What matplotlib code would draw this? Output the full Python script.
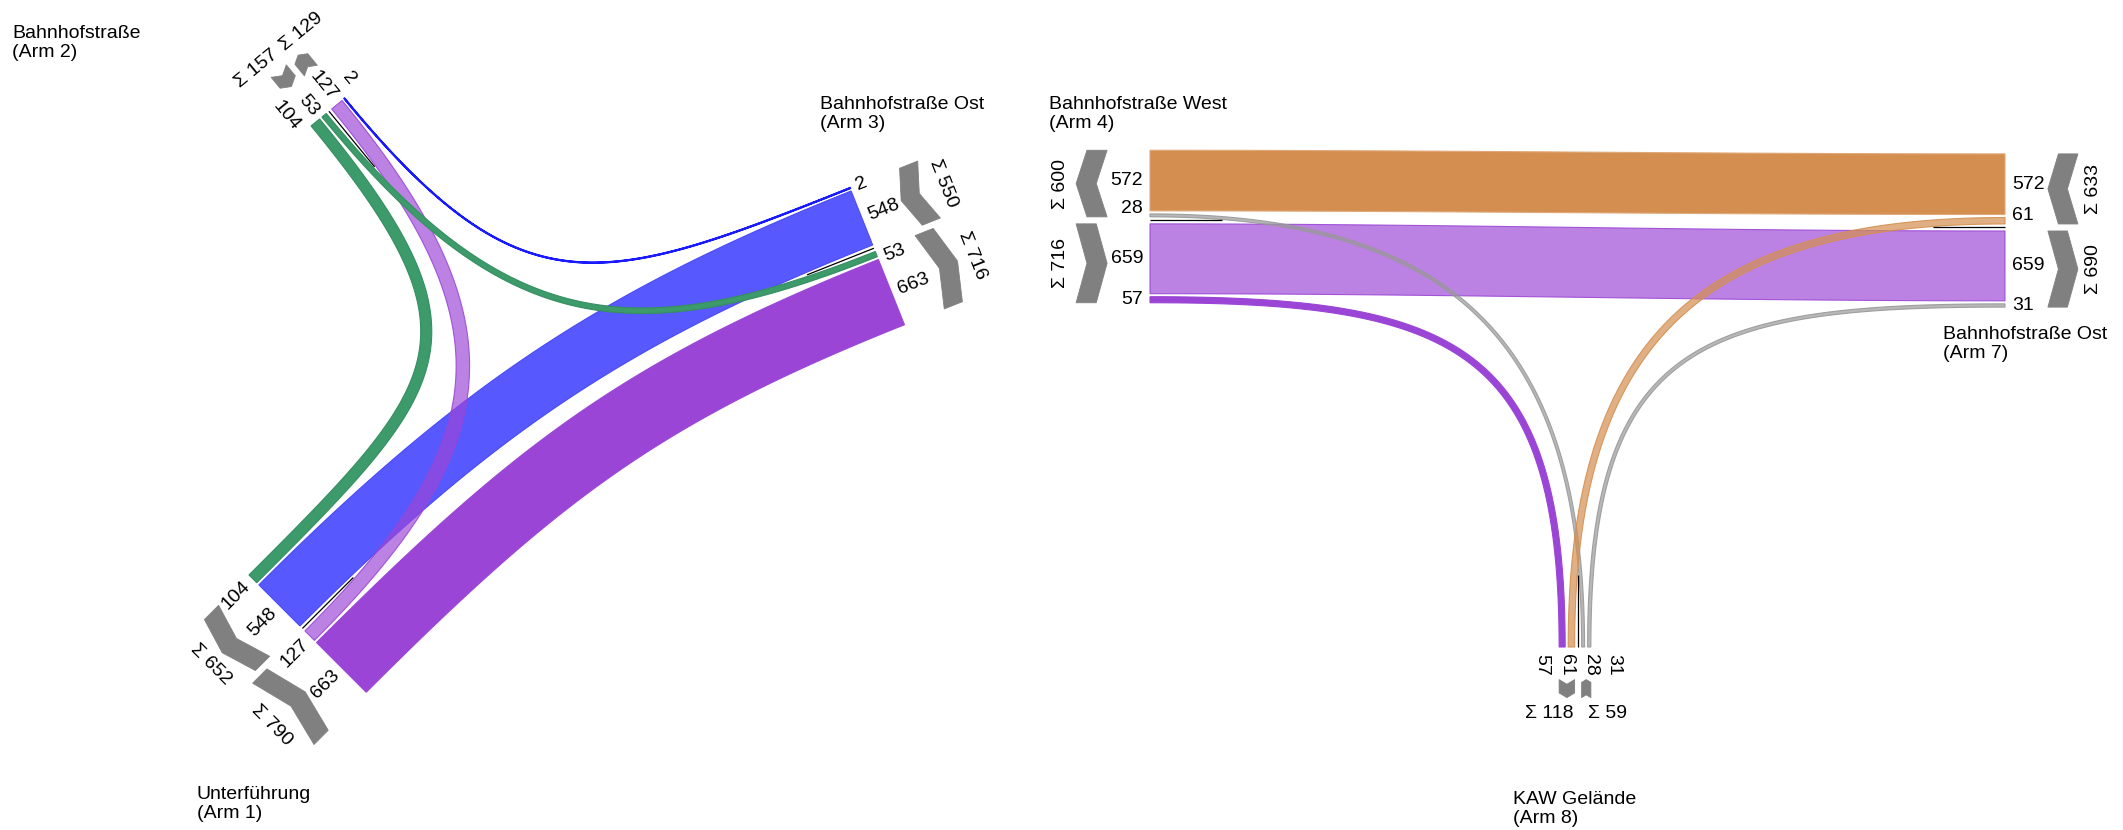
import os
import numpy as np
import matplotlib
matplotlib.use("Agg")
import matplotlib.pyplot as plt
import matplotlib.font_manager as fm
from matplotlib.patches import Polygon

# ---------------- font (Arial-metric Liberation Sans, regular width) ----------------
_font_path = None
for _f in fm.findSystemFonts():
    if os.path.basename(_f).lower() in ('liberationsans-regular.ttf', 'arimo-regular.ttf', 'arial.ttf'):
        _font_path = _f
        break
if _font_path:
    fm.fontManager.addfont(_font_path)
    _fname = fm.FontProperties(fname=_font_path).get_name()
    plt.rcParams['font.family'] = [_fname, 'DejaVu Sans']
    FONT_KW = dict(fontproperties=fm.FontProperties(fname=_font_path))
else:
    plt.rcParams['font.family'] = ['Roboto', 'DejaVu Sans']
    FONT_KW = {}

# ---------------- data ----------------
# left intersection (arms 1, 2, 3): flows origin -> destination with counts
left_from = [1, 3, 1, 2, 2, 3]
left_to = [3, 1, 2, 1, 3, 2]
left_vals = [663, 548, 127, 104, 53, 2]

# right intersection (arms 4, 7, 8)
right_from = [7, 4, 4, 8, 8, 7]
right_to = [4, 7, 8, 7, 4, 8]
right_vals = [572, 659, 57, 31, 28, 61]

arm_names = {
    1: "Unterführung\n(Arm 1)",
    2: "Bahnhofstraße\n(Arm 2)",
    3: "Bahnhofstraße Ost\n(Arm 3)",
    4: "Bahnhofstraße West\n(Arm 4)",
    7: "Bahnhofstraße Ost\n(Arm 7)",
    8: "KAW Gelände\n(Arm 8)",
}

# ---------------- styles / layout ----------------
SCALE = 0.106      # px per vehicle
GAP = 3.0
MID_GAP = 7.0
FS = 14.0

flow_style = {
    (1, 3): dict(fc='#9b45d6', ec='#9b45d6', alpha=1.0),
    (3, 1): dict(fc='#5858ff', ec='#4a4af8', alpha=1.0),
    (1, 2): dict(fc='#9b45d6', ec='#9b45d6', alpha=0.68),
    (2, 1): dict(fc='#3d9a6a', ec='#358f60', alpha=1.0),
    (2, 3): dict(fc='#3d9a6a', ec='#358f60', alpha=1.0),
    (3, 2): dict(fc='#2a2aff', ec='#1a1aff', alpha=1.0),
    (7, 4): dict(fc='#d48f50', ec='#e0a878', alpha=1.0),
    (4, 7): dict(fc='#9b45d6', ec='#9b45d6', alpha=0.68),
    (4, 8): dict(fc='#9b45d6', ec='#9b45d6', alpha=1.0),
    (8, 7): dict(fc='#999999', ec='#999999', alpha=0.7),
    (8, 4): dict(fc='#999999', ec='#999999', alpha=0.7),
    (7, 8): dict(fc='#d48f50', ec='#d48f50', alpha=0.7),
}

# arm geometry: end centre, outward direction, across direction, slot order
ARM = {
    1: dict(end=(307.6, 633.6), out=(-0.7071, 0.7071), across=(0.7071, 0.7071),
            order=[(2, 1), (3, 1), '|', (1, 2), (1, 3)], depth=31, junction='L'),
    2: dict(end=(327.8, 112.2), out=(-0.635, -0.773), across=(0.773, -0.635),
            order=[(2, 1), (2, 3), '|', (1, 2), (3, 2)], depth=20, junction='L'),
    3: dict(end=(877.2, 256.4), out=(0.929, -0.370), across=(0.370, 0.929),
            order=[(3, 2), (3, 1), '|', (2, 3), (1, 3)], depth=30, junction='L'),
    4: dict(end=(1150.0, 226.5), out=(-1.0, 0.0), across=(0.0, 1.0),
            order=[(7, 4), (8, 4), '|', (4, 7), (4, 8)], depth=31, junction='R'),
    7: dict(end=(2005.0, 230.5), out=(1.0, 0.0), across=(0.0, 1.0),
            order=[(7, 4), (7, 8), '|', (4, 7), (8, 7)], depth=30, junction='R'),
    8: dict(end=(1575.0, 647.0), out=(0.0, 1.0), across=(1.0, 0.0),
            order=[(4, 8), (7, 8), '|', (8, 4), (8, 7)], depth=18, junction='R'),
}
JUNCTION_CENTER = {'L': (558.0, 386.0), 'R': (1575.0, 228.5)}
CURVE_F = {'L': 0.78, 'R': 0.72}

arm_label_pos = {1: (197, 786), 2: (12, 25), 3: (820, 96), 4: (1049, 96),
                 7: (1943, 326), 8: (1513, 791)}

values = {}
for f_, t_, v_ in zip(left_from, left_to, left_vals):
    values[(f_, t_)] = v_
for f_, t_, v_ in zip(right_from, right_to, right_vals):
    values[(f_, t_)] = v_


def unit(v):
    v = np.asarray(v, float)
    return v / np.linalg.norm(v)


# ---------------- arm slot computation ----------------
geo = {}
for arm, L in ARM.items():
    E = np.array(L['end'], float)
    o = unit(L['out'])
    a = unit(L['across'])
    pos = 0.0
    slots = {}
    groups = [[], []]
    g = 0
    first = True
    flag = False
    div = None
    for key in L['order']:
        if key == '|':
            flag = True
            g = 1
            continue
        if not first:
            if flag:
                div = pos + MID_GAP / 2
                pos += MID_GAP
                flag = False
            else:
                pos += GAP
        first = False
        w = values[key] * SCALE
        slots[key] = [pos, w]
        groups[g].append(key)
        pos += w
    W = pos
    for key in slots:
        slots[key][0] -= W / 2
    div -= W / 2
    geo[arm] = dict(E=E, o=o, a=a, slots=slots, groups=groups, div=div, W=W,
                    depth=L['depth'], junction=L['junction'])


def slot_center(arm, key):
    G = geo[arm]
    s0, w = G['slots'][key]
    return G['E'] + G['a'] * (s0 + w / 2)


def bezier(P0, P1, P2, P3, n=240):
    t = np.linspace(0, 1, n)[:, None]
    return ((1 - t) ** 3) * P0 + 3 * ((1 - t) ** 2) * t * P1 + 3 * (1 - t) * t ** 2 * P2 + t ** 3 * P3


def centerline(P0, d0, P3, d3, C, f):
    k0 = f * np.dot(C - P0, d0)
    k3 = f * np.dot(C - P3, d3)
    return bezier(P0, P0 + d0 * k0, P3 + d3 * k3, P3)


def band_polygon(pts, w):
    tg = np.gradient(pts, axis=0)
    tg /= np.linalg.norm(tg, axis=1)[:, None]
    n = np.column_stack([-tg[:, 1], tg[:, 0]])
    left = pts + n * w / 2
    right = pts - n * w / 2
    return np.vstack([left, right[::-1]])


# ---------------- figure ----------------
fig = plt.figure(figsize=(21.23, 8.30), dpi=100)
ax = fig.add_axes([0, 0, 1, 1])
ax.set_xlim(0, 2123)
ax.set_ylim(830, 0)
ax.axis('off')


def txt(x, y, s, **kw):
    kw2 = dict(FONT_KW)
    if 'fontproperties' in kw2:
        fp = kw2['fontproperties'].copy()
        fp.set_size(kw.pop('fontsize', FS))
        kw2['fontproperties'] = fp
    kw2.update(kw)
    return ax.text(x, y, s, **kw2)


draw_order = list(zip(left_from, left_to)) + list(zip(right_from, right_to))
for z, key in enumerate(draw_order):
    fa, ta = key
    v = values[key]
    P0 = slot_center(fa, key)
    P3 = slot_center(ta, key)
    d0 = -geo[fa]['o']
    d3 = -geo[ta]['o']
    J = geo[fa]['junction']
    C = np.array(JUNCTION_CENTER[J])
    pts = centerline(P0, d0, P3, d3, C, CURVE_F[J])
    poly = band_polygon(pts, v * SCALE)
    st = flow_style[key]
    fc = matplotlib.colors.to_rgba(st['fc'], st['alpha'])
    ec = matplotlib.colors.to_rgba(st['ec'], min(1.0, st['alpha'] + 0.2))
    lw = 1.5 if v < 10 else 0.8
    ax.add_patch(Polygon(poly, closed=True, fc=fc, ec=ec, lw=lw, zorder=2 + z * 0.01,
                         joinstyle='miter'))


def spread(desired, groups_idx, div, c, m):
    pos = list(desired)
    g0 = [i for i, g in enumerate(groups_idx) if g == 0]
    g1 = [i for i, g in enumerate(groups_idx) if g == 1]
    if g0:
        last = g0[-1]
        pos[last] = min(pos[last], div - c)
        for j in range(len(g0) - 2, -1, -1):
            pos[g0[j]] = min(pos[g0[j]], pos[g0[j + 1]] - m)
    if g1:
        fst = g1[0]
        pos[fst] = max(pos[fst], div + c)
        for j in range(1, len(g1)):
            pos[g1[j]] = max(pos[g1[j]], pos[g1[j - 1]] + m)
    return pos


def screen_angle(d):
    return np.degrees(np.arctan2(-d[1], d[0]))


for arm, G in geo.items():
    E, o, a = G['E'], G['o'], G['a']
    # divider line
    p1 = E + a * G['div']
    p2 = p1 - o * 72
    ax.plot([p1[0], p2[0]], [p1[1], p2[1]], color='black', lw=0.9, zorder=5,
            solid_capstyle='butt')

    # number labels
    keys = G['groups'][0] + G['groups'][1]
    gidx = [0] * len(G['groups'][0]) + [1] * len(G['groups'][1])
    desired = [G['slots'][k][0] + G['slots'][k][1] / 2 for k in keys]
    lat = spread(desired, gidx, G['div'], 12, 24)
    if o[0] > 0.01 or (abs(o[0]) <= 0.01 and o[1] > 0):
        tdir, ha = o, 'left'
    else:
        tdir, ha = -o, 'right'
    rot = screen_angle(tdir)
    maxdig = max(len(str(values[k])) for k in keys)
    for k, lt in zip(keys, lat):
        p = E + o * 7 + a * lt
        txt(p[0], p[1], str(values[k]), fontsize=FS, rotation=rot,
            rotation_mode='anchor', ha=ha, va='center', zorder=6)

    # chevrons + sums
    r0 = 12 + 10.3 * maxdig
    depth = G['depth']
    h = depth / 2
    pa = a if a[0] > 0.01 or (abs(a[0]) <= 0.01 and a[1] < 0) else -a
    srot = screen_angle(pa)
    sum_desired = []
    for gi, grp in enumerate(G['groups']):
        s0 = G['slots'][grp[0]][0]
        s1 = G['slots'][grp[-1]][0] + G['slots'][grp[-1]][1]
        Lspan = s1 - s0
        vm = (s0 + s1) / 2
        sum_desired.append(vm)
        outbound = grp[0][1] == arm
        pdir = o if outbound else -o
        c = E + o * (r0 + h) + a * vm
        D = min(0.35 * depth, 0.3 * Lspan)
        verts = [c - pdir * h - a * Lspan / 2,
                 c + pdir * (h - D) - a * Lspan / 2,
                 c + pdir * h,
                 c + pdir * (h - D) + a * Lspan / 2,
                 c - pdir * h + a * Lspan / 2,
                 c - pdir * (h - D)]
        ax.add_patch(Polygon(np.array(verts), closed=True, fc='#808080', ec='#808080',
                             lw=0.6, zorder=4, joinstyle='round'))
    slat = spread(sum_desired, [0, 1], G['div'], 29, 0)
    for gi, grp in enumerate(G['groups']):
        total = sum(values[k] for k in grp)
        p = E + o * (r0 + depth + 16) + a * slat[gi]
        txt(p[0], p[1], "Σ " + str(total), fontsize=FS, rotation=srot,
            rotation_mode='anchor', ha='center', va='center', zorder=6)

for arm, (x, y) in arm_label_pos.items():
    txt(x, y, arm_names[arm], fontsize=FS, ha='left', va='top', linespacing=1.12)

fig.savefig("out.png", dpi=100, facecolor='white')
